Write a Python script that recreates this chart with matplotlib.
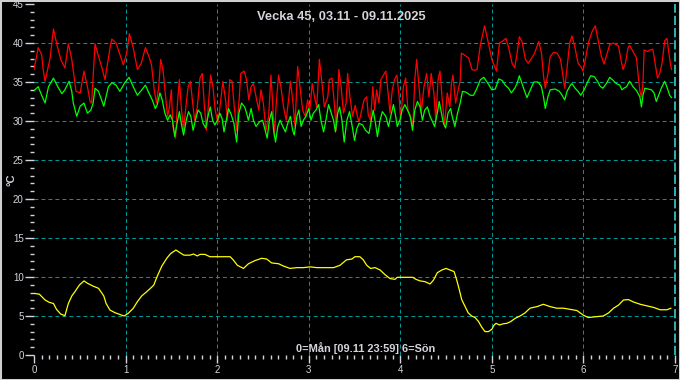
import matplotlib
matplotlib.use("Agg")
import matplotlib.pyplot as plt
from matplotlib.ticker import MultipleLocator
from matplotlib.patches import Rectangle

title = "Vecka 45, 03.11 - 09.11.2025"
note = "0=Mån [09.11 23:59] 6=Sön"
ylabel = "°C"

# hours since Monday 00:00, values in °C
red_h = [0, 1.1, 2, 2.4, 2.9, 4.2, 5.1, 6, 7, 8.1, 9, 9.9, 11, 12.1, 13.1, 14, 14.7, 15.1,
         16, 16.9, 17.7, 18.6, 20, 20.4, 21.5, 22.4, 23.4, 24.3, 25, 26, 27.1, 28.1,
         29.2, 30.1, 30.8, 31.5, 32.1, 32.7, 33.2, 33.8, 34.4, 35, 35.5, 36, 36.4, 37.1,
         37.6, 38.1, 38.6, 39.2, 39.8, 40.4, 41, 41.5, 42.1, 42.8, 43.5, 44.1, 44.6, 45.2,
         45.8, 46.3, 46.9, 47.5, 48.2, 48.9, 49.5, 50.2, 50.7, 51.3, 51.9, 52.4, 53.1,
         53.7, 54.2, 55.1, 55.7, 56.3, 56.9, 57.5, 58.2, 58.9, 59.5, 60.1, 60.8, 61.5,
         62.1, 62.5, 63, 63.5, 64.1, 64.7, 65.4, 66.1, 66.8, 67.2, 67.8, 68.4, 69.1, 69.7,
         70.4, 71.1, 71.7, 72.3, 72.9, 73.5, 74.1, 74.8, 75.5, 76.1, 77, 77.4, 78.1, 78.7,
         79.2, 79.9, 80.5, 81.1, 81.8, 82.2, 82.8, 83.5, 84.2, 84.8, 85.2, 85.9, 86.5,
         87.2, 87.6, 88.2, 88.8, 89.3, 89.8, 90.4, 90.9, 91.6, 92.2, 92.8, 93.3, 93.9,
         94.5, 95.1, 95.7, 96.1, 96.8, 97.4, 98, 98.7, 99.3, 99.8, 100.3, 100.9, 101.5,
         102.2, 102.9, 103.5, 104.1, 104.8, 105.3, 105.9, 106.4, 107, 107.6, 108.3, 109,
         109.4, 109.8, 110.5, 111.1, 111.7, 112, 112.7, 113.9, 114.8, 115.3, 116.1, 117,
         118.1, 119, 120, 120.7, 121.2, 122, 122.7, 123.7, 124.4, 125.3, 126, 126.6,
         127.2, 127.9, 128.8, 129.5, 130.5, 131.2, 132.3, 133, 133.6, 134, 134.7, 135.3,
         136.2, 137.1, 138, 138.6, 139.1, 139.7, 140.4, 141, 141.7, 142.6, 143.3, 143.9,
         144.5, 145.4, 146.3, 147.1, 148, 148.7, 149.4, 150, 150.9, 151.8, 152.6, 153.2,
         153.8, 154.4, 155, 155.7, 156.1, 157, 157.9, 158.3, 158.8, 159.2, 159.6, 159.9,
         160.8, 161.4, 162.2, 162.9, 163.4, 164, 164.6, 165.3, 165.9, 166.4, 166.9, 167.1]
red_v = [36.6, 39.4, 38.5, 36.6, 35.1, 38.0, 41.8, 39.8, 37.9, 36.8, 39.9, 37.9, 33.8, 33.6,
         36.4, 34.4, 32.5, 32.3, 39.9, 38.3, 37.0, 35.3, 39.6, 40.5, 40.0, 38.7, 37.2, 38.7,
         41.2, 39.4, 36.6, 37.4, 39.4, 38.3, 37.2, 34.0, 32.3, 34.4, 37.9, 36.6, 33.6, 30.6,
         31.8, 34.0, 29.3, 27.8, 32.3, 35.3, 31.8, 28.8, 31.8, 34.4, 35.1, 32.7, 30.1, 31.8,
         35.5, 36.1, 32.3, 28.8, 32.7, 35.9, 34.4, 31.4, 29.7, 32.5, 35.1, 32.7, 30.1, 35.3,
         35.1, 32.3, 28.8, 32.3, 36.1, 36.4, 35.3, 32.7, 34.4, 34.8, 33.1, 31.4, 34.0, 32.3,
         28.8, 30.6, 35.9, 32.7, 28.0, 32.3, 35.9, 34.4, 31.8, 30.1, 33.1, 35.1, 32.7, 29.3,
         37.0, 34.4, 31.4, 30.6, 32.7, 31.4, 34.8, 33.1, 31.8, 37.9, 34.8, 31.8, 33.1, 35.3,
         35.5, 32.3, 28.8, 36.6, 34.4, 31.0, 32.3, 36.1, 33.1, 30.6, 32.0, 30.5, 29.9, 31.4,
         32.7, 33.1, 30.8, 30.1, 34.4, 31.4, 34.0, 32.3, 35.3, 35.9, 36.4, 33.6, 31.0, 34.0,
         35.3, 35.9, 33.1, 30.1, 34.4, 35.5, 31.4, 30.6, 29.3, 35.3, 37.9, 34.4, 31.0, 34.4,
         36.1, 33.1, 36.1, 33.6, 30.1, 35.3, 36.4, 32.7, 29.3, 33.6, 31.8, 34.8, 35.9, 32.3,
         33.8, 35.1, 38.7, 38.5, 38.1, 36.6, 36.5, 36.6, 39.8, 42.2, 40.2, 37.9, 37.0, 36.4,
         40.0, 40.2, 40.6, 39.4, 37.4, 36.8, 38.7, 40.8, 40.2, 37.9, 37.4, 38.1, 38.7, 40.2,
         38.7, 35.5, 34.2, 36.1, 38.3, 38.8, 38.7, 37.9, 35.9, 34.2, 36.8, 40.0, 40.9, 39.6,
         37.4, 37.0, 36.4, 37.9, 40.2, 41.5, 42.2, 40.0, 38.3, 37.3, 38.3, 39.8, 40.0, 39.8,
         39.6, 37.9, 36.6, 37.4, 39.4, 39.7, 38.9, 38.1, 36.1, 33.8, 33.1, 34.8, 39.1, 38.9,
         39.1, 39.2, 37.0, 35.5, 36.1, 37.4, 40.3, 40.6, 38.7, 37.0, 36.6]

green_h = [0, 1.1, 2, 2.9, 3.8, 5.1, 6, 7.3, 8.1, 9.2, 9.9, 10.3, 11.2, 12.1, 13.1, 14, 14.9,
           15.5, 16, 16.9, 17.7, 18.3, 19.5, 20.4, 21.5, 22.5, 23.8, 24.9, 26, 27.1, 28.1,
           29.2, 30.1, 31, 31.8, 32.3, 33, 33.6, 34.3, 35, 35.7, 36.3, 36.9, 37.5, 38.1,
           38.6, 39.2, 40, 40.5, 41.1, 41.7, 42.3, 43, 43.7, 44.3, 45, 45.6, 46.2, 46.8,
           47.4, 48.1, 48.7, 49.3, 49.8, 50.4, 51, 51.7, 52.4, 53.1, 53.7, 54.4, 55.2, 55.6,
           56.2, 56.9, 57.5, 58.2, 59.1, 59.9, 60.6, 61.1, 61.7, 62.3, 62.8, 63.3, 63.9,
           64.5, 65.2, 65.9, 66.5, 67.2, 67.8, 68.2, 68.9, 69.4, 70, 70.6, 71.3, 72, 72.6,
           73.2, 73.9, 74.6, 75.2, 75.9, 76.5, 77.2, 77.9, 78.5, 79, 79.6, 80.1, 80.7, 81.3,
           82, 82.7, 83.4, 84, 84.6, 85.2, 86.1, 86.9, 87.8, 88.4, 88.9, 89.5, 90, 90.7,
           91.3, 92.2, 92.9, 93.5, 94.2, 94.8, 95.2, 95.9, 96.5, 97.2, 97.9, 98.6, 99.2,
           99.8, 100.5, 101.2, 101.8, 102.4, 103.1, 103.8, 105, 105.7, 106.2, 106.8, 107.3,
           107.9, 108.5, 109.2, 109.6, 110.3, 111, 111.7, 112.3, 113.2, 114.4, 115.2, 116.1,
           117, 117.9, 119, 120, 120.9, 121.8, 122.7, 123.5, 124.4, 125.1, 126, 126.6,
           127.2, 127.9, 128.6, 129.2, 130.1, 131, 132.1, 133, 133.6, 134, 134.7, 135.3,
           136.6, 137.7, 138.4, 139.1, 139.7, 140.6, 141, 141.8, 142.6, 143.3, 144.2, 145,
           145.9, 146.8, 147.7, 148.3, 149.1, 150, 150.9, 151.8, 152.6, 153.5, 154.1, 154.6,
           155.3, 156.1, 157, 157.9, 158.8, 159.2, 159.6, 160.1, 161, 161.8, 162.5, 163.1,
           163.7, 164.4, 165.3, 166, 166.6, 167.1]
green_v = [33.9, 34.4, 33.3, 32.3, 34.4, 35.5, 34.6, 33.5, 34.0, 35.1, 33.8, 32.3, 30.6, 31.9,
           32.3, 31.0, 31.4, 32.3, 34.2, 33.8, 32.7, 31.9, 34.4, 34.9, 34.6, 33.8, 34.9, 35.6,
           34.4, 33.3, 33.9, 34.6, 33.6, 32.7, 31.6, 32.1, 33.6, 32.7, 31.0, 30.1, 30.8, 30.1,
           28.0, 29.7, 31.2, 29.7, 28.2, 30.3, 31.2, 30.6, 28.8, 30.1, 31.4, 31.0, 29.7, 29.1,
           30.6, 31.8, 30.1, 29.5, 30.1, 31.0, 30.3, 28.6, 30.1, 31.6, 30.8, 29.7, 27.3, 31.0,
           32.3, 31.8, 31.2, 30.1, 31.6, 30.1, 29.3, 29.9, 30.1, 28.8, 27.8, 30.1, 31.2, 28.8,
           27.3, 29.3, 30.1, 29.3, 28.6, 29.7, 30.6, 28.8, 28.2, 30.6, 31.4, 29.3, 30.1, 30.6,
           31.6, 30.1, 31.0, 31.4, 32.1, 30.1, 28.6, 30.1, 32.1, 31.0, 30.1, 28.6, 31.0, 31.8,
           30.1, 27.3, 30.1, 31.2, 29.3, 27.5, 29.0, 29.7, 29.5, 28.8, 28.4, 30.1, 31.4, 29.7,
           28.0, 30.1, 31.2, 30.6, 29.3, 30.6, 32.1, 30.6, 29.3, 30.1, 31.4, 32.1, 31.4, 30.6,
           28.8, 31.4, 32.5, 31.8, 30.1, 31.4, 31.8, 30.6, 29.3, 31.0, 32.5, 31.0, 29.7, 29.1,
           31.0, 31.6, 30.6, 29.3, 31.0, 32.3, 33.8, 33.7, 33.3, 33.3, 34.2, 35.3, 35.6, 34.8,
           34.0, 34.1, 35.4, 35.2, 34.6, 34.2, 33.6, 34.2, 34.8, 35.8, 34.8, 33.8, 33.0, 34.0,
           35.0, 35.0, 34.4, 32.9, 31.6, 33.1, 34.0, 34.1, 33.8, 33.3, 32.7, 33.8, 34.6, 34.8,
           34.2, 33.8, 33.3, 34.0, 34.9, 35.8, 35.7, 35.1, 34.5, 34.2, 34.8, 35.6, 35.2, 34.8,
           34.6, 34.0, 34.2, 34.4, 35.1, 34.4, 33.9, 33.1, 31.8, 33.3, 34.2, 34.1, 34.0, 33.6,
           32.5, 33.3, 34.2, 35.1, 34.2, 33.3, 33.0]

yellow_h = [0, 1.4, 2.9, 4, 5.1, 5.9, 7, 8.1, 9, 9.9, 10.7, 11.9, 13.1, 14, 15.4, 16.9, 17.7,
            18.3, 18.9, 19.9, 21.2, 22.5, 23.6, 24.7, 26, 27.1, 28.2, 29.5, 30.8, 31.4, 32.3,
            33.5, 34.8, 35.8, 37.2, 38.3, 39.3, 40.9, 41.8, 42.8, 43.5, 44.8, 46.1, 47.9,
            49.6, 51.4, 52.2, 53.3, 54.9, 56.2, 57.9, 59.7, 61, 62.3, 64.1, 65.4, 67.1, 68.9,
            70.6, 72.4, 74.1, 75.9, 78.5, 80.2, 81.9, 83.3, 84.1, 85.4, 86.3, 87.2, 88.2,
            89.4, 90.7, 92, 93.3, 94.6, 95.2, 97.7, 99.3, 100.1, 101.2, 102.5, 103.8, 104.7,
            105.7, 106.9, 108, 109, 110.1, 110.8, 111.5, 112.1, 113, 113.8, 114.7, 115.6,
            116.5, 117.3, 118.2, 119.1, 120, 120.6, 121.1, 122, 123, 123.9, 124.9, 126.1,
            127.4, 128.7, 130, 131.8, 133.5, 135.3, 137, 138.8, 140.5, 142.3, 144, 145.3,
            147.1, 149.2, 150.6, 151.9, 153.2, 154.5, 155.8, 157.1, 158.9, 160.6, 162.4,
            164.1, 165.9, 166.9]
yellow_v = [7.9, 7.8, 7.05, 6.75, 6.6, 5.85, 5.25, 5.04, 6.6, 7.56, 8.1, 8.97, 9.5, 9.2, 8.85,
            8.55, 8.0, 7.56, 6.6, 5.77, 5.43, 5.2, 5.0, 5.34, 5.98, 6.84, 7.56, 8.1, 8.68,
            8.97, 10.1, 11.4, 12.4, 13.0, 13.46, 13.1, 12.8, 12.8, 12.95, 12.7, 12.9, 12.9,
            12.6, 12.6, 12.6, 12.6, 12.2, 11.5, 11.1, 11.7, 12.1, 12.4, 12.3, 11.8, 11.7,
            11.4, 11.1, 11.2, 11.2, 11.3, 11.2, 11.2, 11.2, 11.5, 12.2, 12.3, 12.6, 12.6,
            12.2, 11.5, 11.1, 11.2, 10.9, 10.3, 9.8, 9.7, 9.96, 9.96, 9.96, 9.7, 9.5, 9.4,
            9.1, 9.6, 10.55, 10.9, 11.1, 10.9, 10.7, 9.6, 8.3, 7.1, 6.2, 5.4, 5.0, 4.8, 4.3,
            3.6, 3.0, 3.0, 3.3, 3.85, 4.06, 3.85, 4.0, 4.06, 4.27, 4.7, 5.0, 5.4, 6.0, 6.2,
            6.5, 6.2, 6.0, 6.0, 5.85, 5.7, 5.1, 4.8, 4.9, 5.0, 5.4, 6.0, 6.4, 7.05, 7.1, 6.8,
            6.5, 6.3, 6.1, 5.8, 5.8, 6.0]

x_ticks = [0, 1, 2, 3, 4, 5, 6, 7]
y_ticks = [0, 5, 10, 15, 20, 25, 30, 35, 40, 45]

fg = "#d4d4dc"
grid_c = "#009696"

fig = plt.figure(figsize=(6.8, 3.8), dpi=100, facecolor="black")
ax = fig.add_axes([34 / 680, 25 / 380, 641 / 680, 351 / 380])
ax.set_facecolor("black")

ax.plot([h / 24 for h in red_h], red_v, color="#ff0000", lw=0.9)
ax.plot([h / 24 for h in green_h], green_v, color="#00ff00", lw=0.9)
ax.plot([h / 24 for h in yellow_h], yellow_v, color="#ffff00", lw=0.9)

ax.set_xlim(0, 7)
ax.set_ylim(0, 45)
ax.set_xticks(x_ticks)
ax.set_yticks(y_ticks)
ax.xaxis.set_minor_locator(MultipleLocator(1 / 12))
ax.yaxis.set_minor_locator(MultipleLocator(1))

for y in y_ticks[1:-1]:
    ax.axhline(y, color=grid_c, lw=0.75, dashes=(3.8, 2.9), zorder=0)
for x in x_ticks[1:-1]:
    ax.axvline(x, color=grid_c, lw=0.75, dashes=(3.8, 2.9), zorder=0)
ax.axvline(x_ticks[-1], color="#40dede", lw=1.1, dashes=(6, 2), zorder=0, clip_on=False)

for s in ax.spines.values():
    s.set_visible(False)

ax.tick_params(axis="both", which="both", colors=fg, labelcolor=fg, labelsize=7,
               width=1.0)
ax.tick_params(axis="y", which="major", length=6.5, pad=1)
ax.tick_params(axis="y", which="minor", length=3)
ax.tick_params(axis="x", which="major", length=6, pad=1.5)
ax.tick_params(axis="x", which="minor", length=3)
for lab in ax.get_xticklabels() + ax.get_yticklabels():
    lab.set_family("Liberation Sans")

fig.text(341 / 680, 1 - 17 / 380, title, color=fg, fontsize=9.3, fontweight="bold",
         family="Liberation Sans", ha="center", va="center")
fig.text(366 / 680, 1 - 348 / 380, note, color=fg, fontsize=7.9, fontweight="bold",
         family="Liberation Sans", ha="center", va="center")
fig.text(11 / 680, 1 - 180 / 380, ylabel, color=fg, fontsize=8, fontweight="bold",
         family="Liberation Sans", ha="center", va="center", rotation=90)

fig.patches.append(Rectangle((0, 0), 1, 1, transform=fig.transFigure, fill=False,
                             edgecolor="#d0d0d0", lw=2.2))

fig.savefig("out.png", dpi=100, facecolor="black")
